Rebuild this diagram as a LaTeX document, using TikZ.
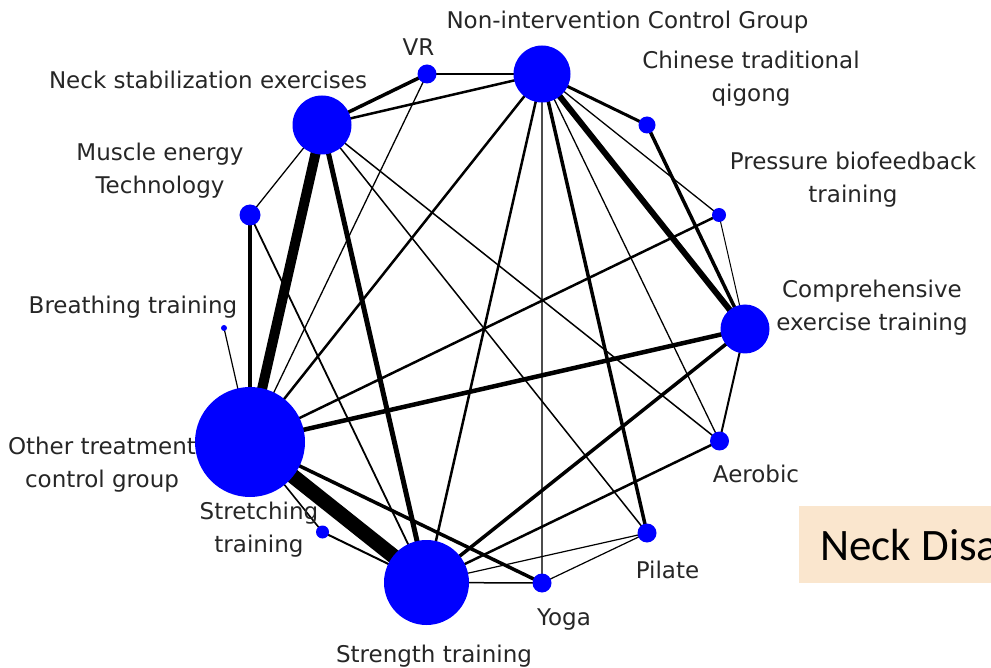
\documentclass[tikz,border=0pt]{standalone}
\usepackage{fontspec}
\setmainfont{DejaVu Sans}
\newfontfamily\boxfont{Carlito}
\usetikzlibrary{backgrounds}
\begin{document}
\begin{tikzpicture}[x=1pt,y=-1pt,
  dot/.style={circle,fill=blue,draw=none,inner sep=0pt,minimum size=#1},
  lbl/.style={anchor=base,align=center,inner sep=0pt,font=\fontsize{23}{33}\selectfont,text=black!85},
  edge/.style={draw=black,line width=#1}]
\useasboundingbox (0,0) rectangle (991,668);
\clip (0,0) rectangle (991,668);
% nodes
\node[dot=57] (nonint) at (542,74) {};
\node[dot=19] (vr) at (427,74) {};
\node[dot=59] (neck) at (322,125) {};
\node[dot=17] (qigong) at (647,125) {};
\node[dot=21] (muscle) at (250,215) {};
\node[dot=14] (pbt) at (719,215) {};
\node[dot=6] (breath) at (224,328) {};
\node[dot=49] (comp) at (745,329) {};
\node[dot=110] (other) at (250,442) {};
\node[dot=19] (aerobic) at (719.5,441) {};
\node[dot=13] (stretch) at (322.5,532) {};
\node[dot=19] (pilate) at (647,533) {};
\node[dot=85] (strength) at (426.5,582.5) {};
\node[dot=19] (yoga) at (542,583) {};
% edges
\begin{scope}[on background layer]
\draw[edge=2.8] (nonint.center) -- (vr.center);
\draw[edge=2.5] (nonint.center) -- (neck.center);
\draw[edge=3] (nonint.center) -- (qigong.center);
\draw[edge=1.3] (nonint.center) -- (pbt.center);
\draw[edge=6] (nonint.center) -- (comp.center);
\draw[edge=3.5] (qigong.center) -- (comp.center);
\draw[edge=3.5] (nonint.center) -- (pilate.center);
\draw[edge=1.3] (nonint.center) -- (aerobic.center);
\draw[edge=1.2,draw=black!70] (nonint.center) -- (yoga.center);
\draw[edge=2.5] (nonint.center) -- (strength.center);
\draw[edge=2.5] (nonint.center) -- (other.center);
\draw[edge=3.5] (neck.center) -- (vr.center);
\draw[edge=1.3] (neck.center) -- (muscle.center);
\draw[edge=10] (neck.center) -- (other.center);
\draw[edge=5] (neck.center) -- (strength.center);
\draw[edge=1.5] (neck.center) -- (pilate.center);
\draw[edge=1.5] (neck.center) -- (aerobic.center);
\draw[edge=1.3] (vr.center) -- (other.center);
\draw[edge=4] (muscle.center) -- (other.center);
\draw[edge=1.8] (muscle.center) -- (strength.center);
\draw[edge=1.2] (breath.center) -- (other.center);
\draw[edge=2.5] (other.center) -- (pbt.center);
\draw[edge=4.5] (other.center) -- (comp.center);
\draw[edge=15] (other.center) -- (strength.center);
\draw[edge=3.5] (other.center) -- (yoga.center);
\draw[edge=1.6] (other.center) -- (stretch.center);
\draw[edge=2] (stretch.center) -- (strength.center);
\draw[edge=3.5] (strength.center) -- (comp.center);
\draw[edge=2.5] (strength.center) -- (aerobic.center);
\draw[edge=1.2] (strength.center) -- (pilate.center);
\draw[edge=1.5] (strength.center) -- (yoga.center);
\draw[edge=1.2] (yoga.center) -- (pilate.center);
\draw[edge=1] (pbt.center) -- (comp.center);
\draw[edge=2] (aerobic.center) -- (comp.center);
\end{scope}
% labels
\node[lbl] (lnonint) at (627.5,28.5) {Non-intervention Control Group};
\node[lbl] (lvr) at (418.5,56) {VR};
\node[lbl] (lneck) at (208,89) {Neck stabilization exercises};
\node[lbl] (lqigong) at (751,102) {Chinese traditional\\qigong};
\node[lbl] (lpbt) at (853,203) {Pressure biofeedback\\training};
\node[lbl] (lmuscle) at (160,194) {Muscle energy\\Technology};
\node[lbl] (lbreath) at (133,314) {Breathing training};
\node[lbl] (lcomp) at (872,331) {Comprehensive\\exercise training};
\node[lbl] (lother) at (102,487) {Other treatment\\control group};
\node[lbl] (laerobic) at (756,482) {Aerobic};
\node[lbl] (lstretch) at (259,552.5) {Stretching\\training};
\node[lbl] (lpilate) at (667.5,578) {Pilate};
\node[lbl] (lyoga) at (564,625) {Yoga};
\node[lbl] (lstrength) at (434,662) {Strength training};
% title box
\fill[fill={rgb,255:red,250;green,230;blue,206}] (799,506) rectangle (1000,583);
\node[anchor=base west,inner sep=0pt,font=\boxfont\fontsize{45}{50}\selectfont] (title) at (820,560) {Neck Disability};
\end{tikzpicture}
\end{document}
